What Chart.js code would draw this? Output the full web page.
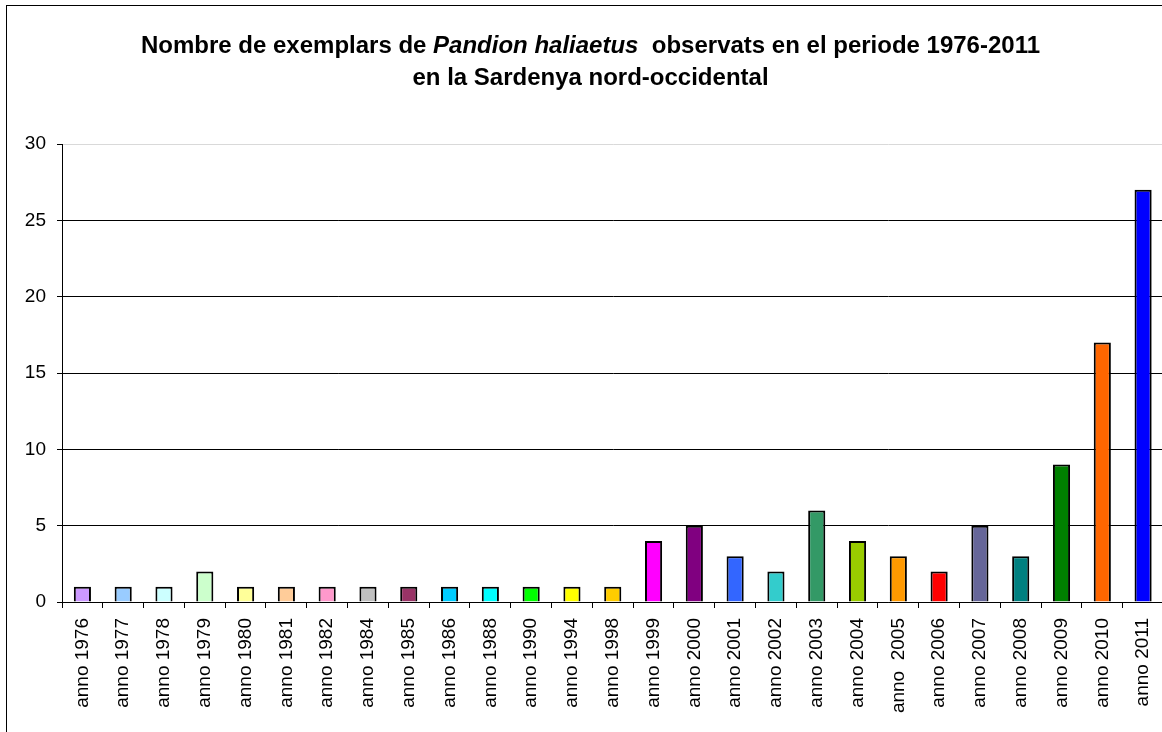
<!DOCTYPE html>
<html>
<head>
<meta charset="utf-8">
<script src="https://cdn.jsdelivr.net/npm/chart.js@4/dist/chart.umd.min.js"></script>
<style>
  html, body { margin: 0; padding: 0; background: #fff; overflow: hidden; }
  #wrap { position: absolute; left: 0; top: 0; width: 1180px; height: 750px; }
</style>
</head>
<body>
<div id="wrap"><canvas id="c"></canvas></div>
<script>
const categories = ['anno 1976','anno 1977','anno 1978','anno 1979','anno 1980','anno 1981','anno 1982','anno 1984','anno 1985','anno 1986','anno 1988','anno 1990','anno 1994','anno 1998','anno 1999','anno 2000','anno 2001','anno 2002','anno 2003','anno 2004','anno  2005','anno 2006','anno 2007','anno 2008','anno 2009','anno 2010','anno 2011'];
const values = [1,1,1,2,1,1,1,1,1,1,1,1,1,1,4,5,3,2,6,4,3,2,5,3,9,17,27];
const barColors = ['#CC99FF','#99CCFF','#CCFFFF','#CCFFCC','#FFFF99','#FFCC99','#FF99CC','#C0C0C0','#993366','#00CCFF','#00FFFF','#00FF00','#FFFF00','#FFCC00','#FF00FF','#800080','#3366FF','#33CCCC','#339966','#99CC00','#FF9900','#FF0000','#666699','#008080','#008000','#FF6600','#0000FF'];
const yTicks = [0,5,10,15,20,25,30];
const titleLine1 = [
  {text: 'Nombre de exemplars de ', italic: false},
  {text: 'Pandion haliaetus', italic: true},
  {text: '  observats en el periode 1976-2011', italic: false}
];
const titleLine2 = [{text: 'en la Sardenya nord-occidental', italic: false}];

const FONT = '"Liberation Sans", Arial, sans-serif';

const decor = {
  id: 'decor',
  afterDraw(chart) {
    const ctx = chart.ctx;
    ctx.save();
    // outer frame
    ctx.strokeStyle = '#000';
    ctx.lineWidth = 1;
    ctx.strokeRect(6.5, 5.5, 1200, 800);
    // title
    ctx.fillStyle = '#000';
    ctx.textBaseline = 'alphabetic';
    ctx.textAlign = 'left';
    const cx = 590.5;
    const drawLine = (segs, y) => {
      let w = 0;
      segs.forEach(s => { ctx.font = (s.italic ? 'italic ' : '') + 'bold 24px ' + FONT; w += ctx.measureText(s.text).width; });
      let x = cx - w / 2;
      segs.forEach(s => { ctx.font = (s.italic ? 'italic ' : '') + 'bold 24px ' + FONT; ctx.fillText(s.text, x, y); x += ctx.measureText(s.text).width; });
    };
    drawLine(titleLine1, 53);
    drawLine(titleLine2, 85);
    ctx.restore();
  }
};

new Chart(document.getElementById('c'), {
  type: 'bar',
  data: {
    labels: categories,
    datasets: [{
      data: values,
      backgroundColor: barColors,
      borderColor: '#000',
      borderWidth: 2,
      categoryPercentage: 1,
      barPercentage: 0.42
    }]
  },
  options: {
    responsive: true,
    maintainAspectRatio: false,
    animation: false,
    layout: { padding: { left: 0, top: 144, right: 16.5, bottom: 0 } },
    plugins: { legend: { display: false }, title: { display: false }, tooltip: { enabled: false } },
    scales: {
      x: {
        grid: { display: true, drawOnChartArea: false, drawTicks: true, tickLength: 6, tickColor: '#000', offset: true },
        border: { display: true, color: '#000', width: 1 },
        ticks: { autoSkip: false, minRotation: 90, maxRotation: 90, padding: 10, color: '#000', font: { family: FONT, size: 19 } },
        afterFit(scale) { scale.height = 148; }
      },
      y: {
        min: 0, max: 30,
        afterBuildTicks(scale) { scale.ticks = yTicks.map(v => ({ value: v })); },
        grid: {
          color: ctx => (ctx.tick && ctx.tick.value === 30) ? '#d9d9d9' : '#000',
          tickColor: '#000', tickLength: 5, lineWidth: 1
        },
        border: { display: true, color: '#000', width: 1 },
        ticks: { padding: 11, color: '#000', font: { family: FONT, size: 19 } },
        afterFit(scale) { scale.width = 62; }
      }
    }
  },
  plugins: [decor]
});
</script>
</body>
</html>
